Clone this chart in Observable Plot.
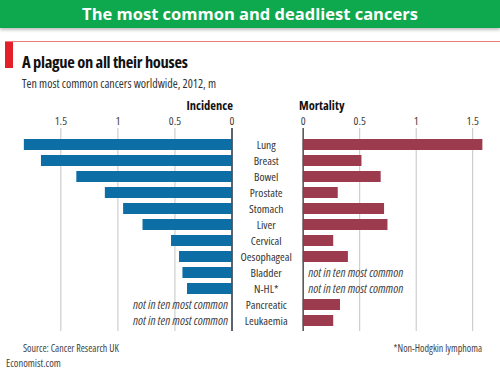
<!DOCTYPE html>
<html>
<head>
<meta charset="utf-8">
<script src="https://cdn.jsdelivr.net/npm/d3@7"></script>
<script src="https://cdn.jsdelivr.net/npm/@observablehq/plot@0.6"></script>
<style>
  html, body { margin: 0; padding: 0; background: #fff; }
  #chart { position: relative; width: 500px; height: 375px; overflow: hidden; background: #fff;
    font-family: "Open Sans", sans-serif; font-stretch: condensed; color: #222; }
  .abs { position: absolute; white-space: nowrap; line-height: 1; }
  #banner { left: 0; top: 0; width: 500px; height: 28px; background: #0ea84e; color: #fff;
    font-stretch: normal; font-weight: bold; font-size: 16.5px;
    line-height: 28px; text-align: center; box-shadow: 0 2px 3px rgba(0,0,0,0.25); }
  #redline { left: 5px; top: 41px; width: 495px; height: 1px; background: #ec7b7b; }
  #redbox { left: 5px; top: 42px; width: 8px; height: 26px; background: #e3202a; }
  #title { left: 22px; top: 53.5px; font-size: 16.5px; letter-spacing: -0.3px; font-weight: bold; color: #111; }
  #subtitle { left: 22px; top: 77.5px; font-size: 12px; color: #333; }
  .paneltitle { top: 99.5px; font-size: 12.5px; font-weight: bold; color: #111; }
  .note { font-size: 10px; color: #444; }
  .plot { position: absolute; top: 95px; }
</style>
</head>
<body>
<div id="chart">
  <div id="banner" class="abs">The most common and deadliest cancers</div>
  <div id="redline" class="abs"></div>
  <div id="redbox" class="abs"></div>
  <div id="title" class="abs">A plague on all their houses</div>
  <div id="subtitle" class="abs">Ten most common cancers worldwide, 2012, m</div>
  <div id="incTitle" class="abs paneltitle" style="right:267px;">Incidence</div>
  <div id="morTitle" class="abs paneltitle" style="left:299px;">Mortality</div>
  <div id="leftPlot" class="plot" style="left:0px;"></div>
  <div id="rightPlot" class="plot" style="left:232px;"></div>
  <div class="abs note" style="left:23px; top:343px;">Source: Cancer Research UK</div>
  <div class="abs note" style="left:6px; top:357.5px; font-size:10.5px;">Economist.com</div>
  <div class="abs note" style="right:18px; top:343px;">*Non-Hodgkin lymphoma</div>
</div>
<script>
const cancers = ["Lung", "Breast", "Bowel", "Prostate", "Stomach", "Liver", "Cervical",
  "Oesophageal", "Bladder", "N-HL*", "Pancreatic", "Leukaemia"];
const incidence = [1.82, 1.67, 1.36, 1.11, 0.95, 0.78, 0.53, 0.46, 0.43, 0.39, null, null];
const mortality = [1.59, 0.52, 0.69, 0.31, 0.72, 0.75, 0.27, 0.40, null, null, 0.33, 0.27];
const xTicks = [0, 0.5, 1, 1.5];
const xTickLabels = ["0", "0.5", "1", "1.5"];
const missingLabel = "not in ten most common";

const incData = cancers.map((c, i) => ({cancer: c, value: incidence[i]}));
const morData = cancers.map((c, i) => ({cancer: c, value: mortality[i]}));

const svgStyle = "font-family: 'Open Sans', sans-serif; font-stretch: condensed; font-size: 12px; color: #444; background: transparent; overflow: visible;";
const fmt = d => xTickLabels[xTicks.indexOf(d)];
const yScale = {domain: cancers, range: [36.1, 238.4], paddingInner: 0.29, paddingOuter: 0.145};

const left = Plot.plot({
  width: 240, height: 240,
  marginTop: 33, marginBottom: 4, marginLeft: 0, marginRight: 0,
  style: svgStyle,
  x: {domain: [0, 2], range: [231.5, 3.3], ticks: xTicks},
  y: {...yScale, axis: null},
  marks: [
    Plot.gridX(xTicks, {stroke: "#c4c4c4", strokeOpacity: 1, strokeWidth: 1}),
    Plot.axisX(xTicks, {anchor: "top", tickSize: 0, tickPadding: 4, tickFormat: fmt, label: null, fontSize: 11.5, fill: "#444"}),
    Plot.barX(incData.filter(d => d.value != null), {x: "value", y: "cancer", fill: "#0d6ea6"}),
    Plot.text(incData.filter(d => d.value == null), {x: 0, y: "cancer", text: () => missingLabel,
      textAnchor: "end", dx: -4, fontStyle: "italic", fontSize: 12.5, fill: "#444"}),
    Plot.ruleX([0], {stroke: "#2a3b4a", strokeWidth: 1.5})
  ]
});
document.getElementById("leftPlot").appendChild(left);

const right = Plot.plot({
  width: 268, height: 240,
  marginTop: 33, marginBottom: 4, marginLeft: 70.7, marginRight: 0,
  style: svgStyle,
  x: {domain: [0, 2], range: [70.7, 296.7], ticks: xTicks},
  y: {...yScale},
  marks: [
    Plot.gridX(xTicks, {stroke: "#c4c4c4", strokeOpacity: 1, strokeWidth: 1}),
    Plot.axisX(xTicks, {anchor: "top", tickSize: 0, tickPadding: 4, tickFormat: fmt, label: null, fontSize: 11.5, fill: "#444"}),
    Plot.axisY({anchor: "left", tickSize: 0, tickPadding: 37, textAnchor: "middle", label: null, fontSize: 11.5, fill: "#333", letterSpacing: "-0.3px"}),
    Plot.barX(morData.filter(d => d.value != null), {x: "value", y: "cancer", fill: "#9c3b4e"}),
    Plot.text(morData.filter(d => d.value == null), {x: 0, y: "cancer", text: () => missingLabel,
      textAnchor: "start", dx: 5, fontStyle: "italic", fontSize: 12.5, fill: "#444"}),
    Plot.ruleX([0], {stroke: "#555", strokeWidth: 1.5})
  ]
});
document.getElementById("rightPlot").appendChild(right);
</script>
</body>
</html>
